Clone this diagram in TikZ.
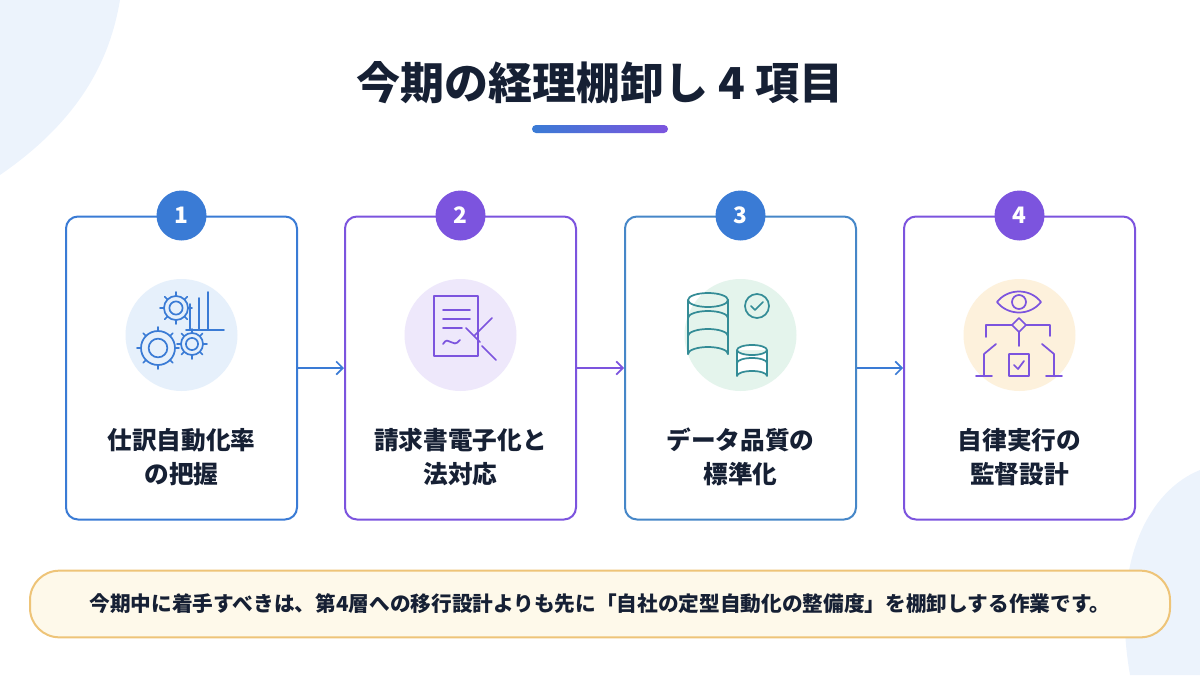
\documentclass[tikz,border=0pt]{standalone}
\usepackage{fontspec}
\setmainfont{Noto Sans CJK JP}
\usetikzlibrary{arrows.meta,shadings}
\definecolor{cblue}{RGB}{58,123,213}
\definecolor{cpurple}{RGB}{124,84,222}
\definecolor{cgreen}{RGB}{52,140,150}
\definecolor{cteal}{RGB}{70,135,200}
\definecolor{ink}{RGB}{22,32,52}
\definecolor{bgblue}{RGB}{236,243,252}
\definecolor{discA}{RGB}{230,240,251}
\definecolor{discB}{RGB}{238,232,251}
\definecolor{discC}{RGB}{228,244,236}
\definecolor{discD}{RGB}{253,241,220}
\definecolor{noteline}{RGB}{238,196,120}
\definecolor{notefill}{RGB}{254,249,234}
\tikzset{every picture/.style={line width=0.75pt},
  card/.style={draw=#1,line width=1.5pt,rounded corners=9pt,fill=white,minimum width=173.25pt,minimum height=227.25pt},
  badge/.style={circle,fill=#1,minimum size=37.5pt,inner sep=0pt,text=white,font=\bfseries\fontsize{17}{18}\selectfont},
  disc/.style={circle,fill=#1,minimum size=84pt,inner sep=0pt},
  label/.style={align=center,text=ink,font=\bfseries\fontsize{18.5}{26}\selectfont},
  flow/.style={-{Straight Barb[length=5pt,width=10pt]},line width=1.2pt,draw=#1},
  icon/.style={line width=1.3pt,draw=#1,line cap=round,line join=round}}

\begin{document}
\begin{tikzpicture}[x=0.75pt,y=0.75pt,yscale=-1,xscale=1]
	\useasboundingbox (0,0) rectangle (1200,675);
	%Shape: background blobs
	\fill[bgblue] (0,0) -- (120,0) .. controls (110,60) and (80,120) .. (0,175) -- cycle;
	\fill[bgblue] (1200,470) .. controls (1150,490) and (1110,560) .. (1130,675) -- (1200,675) -- cycle;

	% Text Node
	\node[text=ink,font=\bfseries\fontsize{33}{36}\selectfont] (title) at (600,83) {今期の経理棚卸し 4 項目};
	%Shape: underline bar
	\shade[left color=cblue,right color=cpurple,rounded corners=3] (532,125) rectangle (668,133);

	%Cards
	\node[card=cblue]   (c1) at (181.5,368) {};
	\node[card=cpurple] (c2) at (460.5,368) {};
	\node[card=cteal]   (c3) at (740.5,368) {};
	\node[card=cpurple] (c4) at (1019.5,368) {};

	%Badges
	\node[badge=cblue]   (b1) at (c1.north) {1};
	\node[badge=cpurple] (b2) at (c2.north) {2};
	\node[badge=cblue]   (b3) at (c3.north) {3};
	\node[badge=cpurple] (b4) at (c4.north) {4};

	%Icon discs
	\node[disc=discA] (d1) at (181.5,335) {};
	\node[disc=discB] (d2) at (460.5,335) {};
	\node[disc=discC] (d3) at (740.5,335) {};
	\node[disc=discD] (d4) at (1019.5,335) {};

	%Icon 1: gears and bars
	\foreach \cx/\cy/\r in {158/348/17,192/344/11,176/308/12}{
	  \draw[icon=cblue] (\cx,\cy) circle (\r*0.55);
	  \draw[icon=cblue] (\cx,\cy) circle (\r);
	  \foreach \a in {0,45,...,315}
	    \draw[icon=cblue] (\cx,\cy) ++(\a:\r) -- ++(\a:4);}
	\draw[icon=cblue] (190,330) -- (190,304) (199,330) -- (199,298) (208,330) -- (208,292) (186,330) -- (224,330);
	%Icon 2: document with gavel
	\draw[icon=cpurple] (434,296) -- (478,296) -- (478,356) -- (434,356) -- cycle;
	\draw[icon=cpurple] (443,310) -- (470,310) (443,319) -- (470,319) (443,328) -- (462,328);
	\draw[icon=cpurple] (443,344) .. controls (449,334) and (452,350) .. (460,340);
	\draw[icon=cpurple] (474,336) -- (492,318) (466,328) -- (480,342) (482,346) -- (496,360);
	%Icon 3: databases and check
	\draw[icon=cgreen] (708,300) ellipse (20 and 7);
	\draw[icon=cgreen] (688,300) -- (688,354) (728,300) -- (728,354);
	\draw[icon=cgreen] (688,318) arc (180:360:20 and 7) (688,336) arc (180:360:20 and 7) (688,354) arc (180:360:20 and 7);
	\draw[icon=cgreen,fill=white] (752,350) ellipse (15 and 5) (737,350) -- (737,376) arc (180:360:15 and 5) -- (767,350);
	\draw[icon=cgreen] (737,363) arc (180:360:15 and 5);
	\draw[icon=cgreen,fill=discC] (757,306) circle (12);
	\draw[icon=cgreen] (751,306) -- (755,310) -- (763,302);
	%Icon 4: eye, decision and robots
	\draw[icon=cpurple] (997,302) .. controls (1008,288) and (1030,288) .. (1041,302) .. controls (1030,316) and (1008,316) .. (997,302);
	\draw[icon=cpurple] (1019,302) circle (7);
	\draw[icon=cpurple] (1019,318) -- (1026,325) -- (1019,332) -- (1012,325) -- cycle;
	\draw[icon=cpurple] (1012,325) -- (986,325) -- (986,337) (1026,325) -- (1050,325) -- (1050,336);
	\draw[icon=cpurple] (1019,332) -- (1019,346);
	\draw[icon=cpurple] (1009,354) rectangle (1029,376) (1014,365) -- (1018,369) -- (1024,361);
	\draw[icon=cpurple] (976,376) -- (992,376) (984,376) -- (984,354) -- (996,344) (1046,376) -- (1062,376) (1054,376) -- (1054,354) -- (1042,344);

	% Text Nodes
	\node[label] (t1) at (181.5,457) {仕訳自動化率\\の把握};
	\node[label] (t2) at (460.5,457) {請求書電子化と\\法対応};
	\node[label] (t3) at (740.5,457) {データ品質の\\標準化};
	\node[label] (t4) at (1019.5,457) {自律実行の\\監督設計};

	%Arrows
	\draw[flow=cblue]   (c1.east) -- (c2.west);
	\draw[flow=cpurple] (c2.east) -- (c3.west);
	\draw[flow=cblue]   (c3.east) -- (c4.west);

	%Shape: summary banner
	\node[draw=noteline,line width=1.5pt,fill=notefill,rounded corners=22pt,minimum width=855pt,minimum height=50pt,text=ink,font=\bfseries\fontsize{15.5}{18}\selectfont] (note) at (600,604) {今期中に着手すべきは、第4層への移行設計よりも先に「自社の定型自動化の整備度」を棚卸しする作業です。};
\end{tikzpicture}
\end{document}
